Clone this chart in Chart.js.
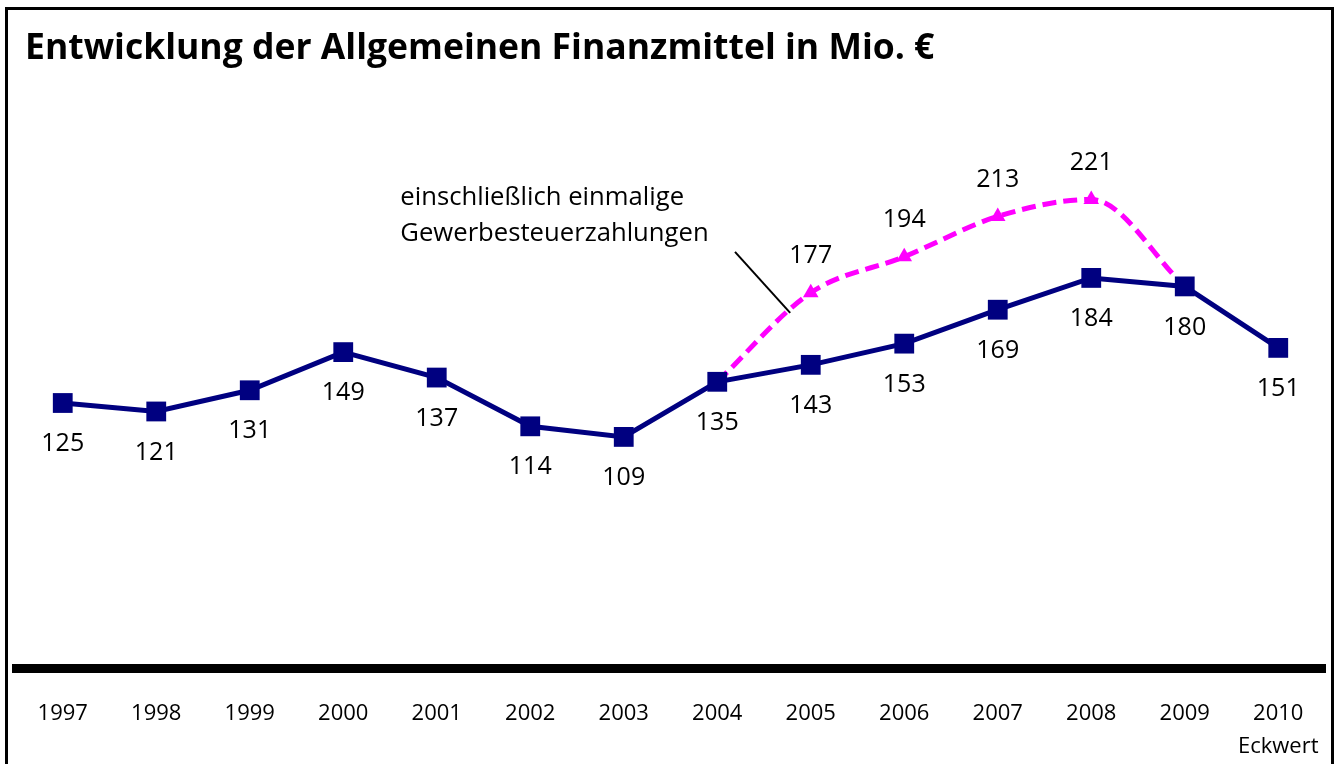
<!DOCTYPE html>
<html>
<head>
<meta charset="utf-8">
<script src="https://cdn.jsdelivr.net/npm/chart.js@4"></script>
<style>
  html, body { margin: 0; padding: 0; background: #fff; overflow: hidden; }
  #wrap { position: relative; width: 1339px; height: 764px; }
  #frame { position: absolute; left: 5px; top: 7px; width: 1329px; height: 800px; border: 3px solid #000; box-sizing: border-box; pointer-events: none; }
</style>
</head>
<body>
<div id="wrap">
  <canvas id="chart-canvas"></canvas>
  <div id="frame"></div>
</div>
<script>
const years = ["1997", "1998", "1999", "2000", "2001", "2002", "2003", "2004", "2005", "2006", "2007", "2008", "2009", ["2010", "Eckwert"]];
const finanzmittel = [125, 121, 131, 149, 137, 114, 109, 135, 143, 153, 169, 184, 180, 151];
const mitEinmaligen = [null, null, null, null, null, null, null, 135, 177, 194, 213, 221, 180, null];
const pinkLabelIdx = [8, 9, 10, 11];
const titleText = "Entwicklung der Allgemeinen Finanzmittel in Mio. €";
const noteLines = ["einschließlich einmalige", "Gewerbesteuerzahlungen"];

const FONT = "'Open Sans', 'DejaVu Sans', sans-serif";

function fitFont(ctx, text, weight, width) {
  ctx.font = `${weight} 30px ${FONT}`;
  return 30 * width / ctx.measureText(text).width;
}

const labelsPlugin = {
  id: "labelsPlugin",
  afterDraw(chart) {
    const ctx = chart.ctx;
    const x = chart.scales.x;
    const y = chart.scales.y;
    ctx.save();

    // title
    const ts = fitFont(ctx, titleText, "bold", 910);
    ctx.font = `bold ${ts}px ${FONT}`;
    ctx.fillStyle = "#000";
    ctx.textBaseline = "middle";
    ctx.textAlign = "left";
    ctx.fillText(titleText, 25, 49);

    // value labels
    ctx.font = `25px ${FONT}`;
    ctx.textAlign = "center";
    finanzmittel.forEach((v, i) => {
      ctx.fillText(String(v), x.getPixelForValue(i), y.getPixelForValue(v) + 41);
    });
    pinkLabelIdx.forEach(i => {
      const v = mitEinmaligen[i];
      ctx.fillText(String(v), x.getPixelForValue(i), y.getPixelForValue(v) - 37);
    });

    // note text + leader line
    const ns = fitFont(ctx, noteLines[0], "normal", 284);
    ctx.font = `${ns}px ${FONT}`;
    ctx.textAlign = "left";
    ctx.fillText(noteLines[0], x.getPixelForValue(3.61), y.getPixelForValue(221.7));
    ctx.fillText(noteLines[1], x.getPixelForValue(3.61), y.getPixelForValue(205));
    ctx.strokeStyle = "#000";
    ctx.lineWidth = 2;
    ctx.beginPath();
    ctx.moveTo(x.getPixelForValue(7.19), y.getPixelForValue(196.3));
    ctx.lineTo(x.getPixelForValue(7.78), y.getPixelForValue(167.5));
    ctx.stroke();
    ctx.restore();
  }
};

const ctx = document.getElementById("chart-canvas").getContext("2d");
const chart = new Chart(ctx, {
  type: "line",
  data: {
    labels: years,
    datasets: [
      {
        label: "Allgemeine Finanzmittel",
        data: finanzmittel,
        borderColor: "#000080",
        backgroundColor: "#000080",
        borderWidth: 5,
        pointStyle: "rect",
        pointRadius: 14,
        pointBorderWidth: 0,
        tension: 0
      },
      {
        label: "einschließlich einmalige Gewerbesteuerzahlungen",
        data: mitEinmaligen,
        borderColor: "#ff00ff",
        backgroundColor: "#ff00ff",
        borderWidth: 5,
        borderDash: [14, 7],
        pointStyle: "triangle",
        pointRadius: 9,
        pointBorderWidth: 0,
        cubicInterpolationMode: "monotone",
        spanGaps: false
      }
    ]
  },
  options: {
    responsive: true,
    maintainAspectRatio: false,
    animation: false,
    layout: { padding: { left: 16, right: 14, top: 138, bottom: 6 } },
    plugins: {
      legend: { display: false },
      title: { display: false },
      tooltip: { enabled: false }
    },
    scales: {
      x: {
        offset: true,
        grid: { display: false, drawTicks: true, tickLength: 29 },
        border: { display: true, color: "#000", width: 9 },
        ticks: {
          color: "#000",
          font: { family: FONT, size: 22, lineHeight: 1.5 },
          padding: 0,
          maxRotation: 0,
          autoSkip: false
        },
        afterFit(s) { s.height = 90; }
      },
      y: {
        display: false,
        min: 0,
        max: 250
      }
    }
  },
  plugins: [labelsPlugin]
});
</script>
</body>
</html>
